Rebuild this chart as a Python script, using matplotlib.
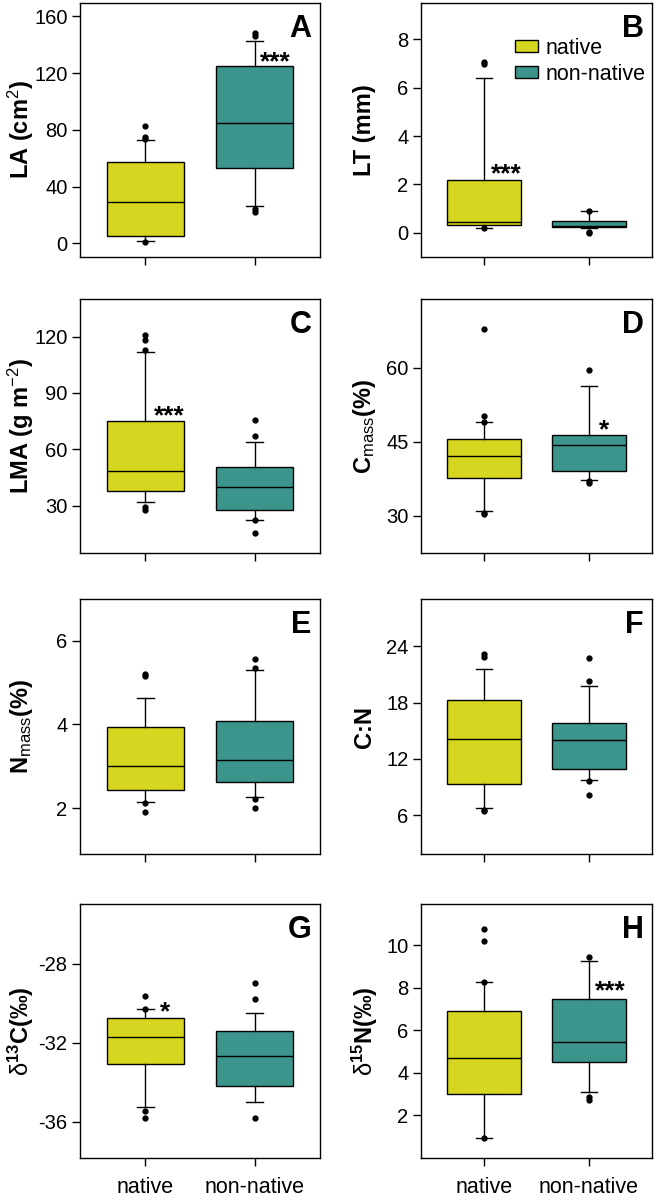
import matplotlib
matplotlib.use('Agg')
import matplotlib.pyplot as plt
from matplotlib.patches import Patch

plt.rcParams['font.family'] = ['Liberation Sans', 'DejaVu Sans']
plt.rcParams['mathtext.fontset'] = 'custom'
plt.rcParams['mathtext.rm'] = 'Liberation Sans'
plt.rcParams['mathtext.bf'] = 'Liberation Sans:bold'
plt.rcParams['mathtext.it'] = 'Liberation Sans:italic'
plt.rcParams['mathtext.default'] = 'rm'
plt.rcParams['axes.unicode_minus'] = False

# Panel data
letters = ['A', 'B', 'C', 'D', 'E', 'F', 'G', 'H']
ylabels = ['LA (cm$^{2}$)', 'LT (mm)', 'LMA (g m$^{-2}$)', 'C$_{mass}$(%)',
           'N$_{mass}$(%)', 'C:N', '$\\delta^{\\mathbf{13}}$C(‰)',
           '$\\delta^{\\mathbf{15}}$N(‰)']
yticks = [[0, 40, 80, 120, 160], [0, 2, 4, 6, 8], [30, 60, 90, 120], [30, 45, 60],
          [2, 4, 6], [6, 12, 18, 24], [-36, -32, -28], [2, 4, 6, 8, 10]]
ylims = [(-9.7, 169.5), (-1.0, 9.5), (4.85, 140), (22.4, 73.9),
         (0.9, 7.0), (1.9, 29.0), (-37.85, -24.97), (0.0, 11.95)]
groups = ['native', 'non-native']

# native group: q1, median, q3, lower whisker, upper whisker
nat_q1 = [5.0, 0.34, 37.6, 37.6, 2.44, 9.36, -33.06, 3.02]
nat_med = [29.0, 0.45, 48.4, 42.0, 3.0, 14.1, -31.71, 4.71]
nat_q3 = [57.0, 2.19, 75.0, 45.55, 3.93, 18.3, -30.73, 6.9]
nat_lo = [1.6, 0.19, 31.8, 31.0, 2.14, 6.8, -35.27, 0.94]
nat_hi = [72.6, 6.39, 111.7, 48.9, 4.64, 21.6, -30.28, 8.29]
nat_fliers = [[82.7, 75.0, 73.5, 1.2],
              [7.06, 6.97, 0.18],
              [120.9, 118.4, 112.6, 29.3, 27.9],
              [67.9, 50.2, 48.9, 30.55, 30.3],
              [5.2, 5.15, 2.13, 1.9],
              [23.2, 22.8, 6.6, 6.45],
              [-29.65, -30.27, -35.46, -35.83],
              [10.77, 10.2, 8.29, 0.94]]

# non-native group
non_q1 = [52.8, 0.22, 27.9, 39.0, 2.62, 10.9, -34.2, 4.53]
non_med = [85.0, 0.3, 39.9, 44.3, 3.16, 14.0, -32.67, 5.45]
non_q3 = [125.4, 0.48, 50.4, 46.3, 4.09, 15.8, -31.39, 7.5]
non_lo = [26.6, 0.19, 22.2, 37.3, 2.27, 9.8, -35.0, 3.1]
non_hi = [143.0, 0.92, 64.0, 56.2, 5.31, 19.8, -30.5, 9.28]
non_fliers = [[148.3, 146.0, 24.5, 22.0],
              [0.92, 0.05, 0.0],
              [75.4, 67.0, 22.2, 15.3],
              [59.5, 36.9, 36.6],
              [5.56, 5.34, 2.22, 2.0],
              [22.7, 20.3, 9.7, 8.2],
              [-29.0, -29.8, -35.83],
              [9.47, 2.86, 2.75]]

# significance marks: text, x position, y centre
sig_text = ['***', '***', '***', '*', '', '', '*', '***']
sig_x = [2.19, 1.21, 1.22, 2.14, 0, 0, 1.18, 2.2]
sig_y = [131.7, 2.64, 80.3, 48.3, 0, 0, -30.2, 8.11]

yellow = '#d6d620'
teal = '#3b958d'

fig = plt.figure(figsize=(6.61, 12.0), dpi=100)
W, H = 661.0, 1200.0

col_x = [(80, 240), (421, 231)]
row_y = [(3, 257), (299, 553), (599, 854), (904, 1158)]

for i in range(8):
    r, c = i // 2, i % 2
    x0, w = col_x[c]
    top, bot = row_y[r]
    ax = fig.add_axes([x0 / W, 1 - bot / H, w / W, (bot - top) / H])

    stats = [dict(q1=nat_q1[i], med=nat_med[i], q3=nat_q3[i], whislo=nat_lo[i],
                  whishi=nat_hi[i], fliers=nat_fliers[i]),
             dict(q1=non_q1[i], med=non_med[i], q3=non_q3[i], whislo=non_lo[i],
                  whishi=non_hi[i], fliers=non_fliers[i])]
    bp = ax.bxp(stats, positions=[1, 2], widths=0.7, capwidths=0.16,
                patch_artist=True,
                boxprops=dict(edgecolor='black', linewidth=1.0),
                medianprops=dict(color='black', linewidth=1.0),
                whiskerprops=dict(color='black', linewidth=1.0),
                capprops=dict(color='black', linewidth=1.0),
                flierprops=dict(marker='o', markerfacecolor='black',
                                markeredgecolor='black', markersize=3.5))
    bp['boxes'][0].set_facecolor(yellow)
    bp['boxes'][1].set_facecolor(teal)

    ax.set_xlim(0.4, 2.6)
    ax.set_ylim(*ylims[i])
    ax.set_yticks(yticks[i])
    ax.set_xticks([1, 2])
    if r == 3:
        ax.set_xticklabels(groups)
    else:
        ax.set_xticklabels(['', ''])
    ax.tick_params(axis='both', direction='out', length=6, width=1.0,
                   labelsize=14.5, pad=3)
    ax.tick_params(axis='x', pad=8, labelsize=15.5)
    for sp in ax.spines.values():
        sp.set_linewidth(1.0)

    ax.set_ylabel(ylabels[i], fontsize=17, fontweight='bold', va='center')
    ax.yaxis.set_label_coords(-0.245, 0.5)

    ax.text(0.965, 0.955, letters[i], transform=ax.transAxes, ha='right',
            va='top', fontsize=22, fontweight='bold')

    if sig_text[i]:
        ax.annotate(sig_text[i], (sig_x[i], sig_y[i]), xytext=(0, -9),
                    textcoords='offset points', ha='center', va='baseline',
                    fontsize=19, fontweight='bold')

    if i == 1:
        handles = [Patch(facecolor=yellow, edgecolor='black', label='native'),
                   Patch(facecolor=teal, edgecolor='black', label='non-native')]
        ax.legend(handles=handles, loc='upper right', bbox_to_anchor=(1.03, 0.915),
                  frameon=False, fontsize=15.5, handlelength=1.1, handleheight=0.5,
                  handletextpad=0.35, labelspacing=0.25, borderaxespad=0.2)

fig.savefig('out.png', dpi=100)
